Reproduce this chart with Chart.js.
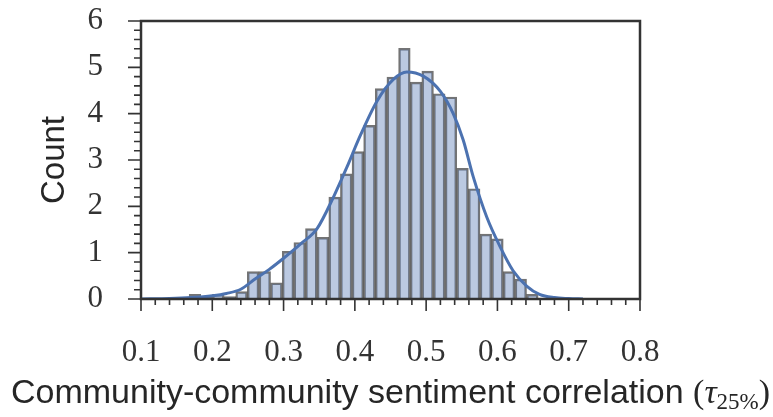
<!DOCTYPE html>
<html>
<head>
<meta charset="utf-8">
<script src="https://cdn.jsdelivr.net/npm/chart.js@4.4.1/dist/chart.umd.min.js"></script>
<style>
  html, body { margin: 0; padding: 0; background: #fff; }
  #wrap { width: 773px; height: 417px; }
</style>
</head>
<body>
<div id="wrap"><canvas id="histChart" width="773" height="417"></canvas></div>
<script>
// Histogramm: Bin-Mitten und Höhen
const binCenters = [0.1757, 0.1920, 0.2084, 0.2247, 0.2410, 0.2573, 0.2736, 0.2900, 0.3063, 0.3226,
                    0.3389, 0.3552, 0.3716, 0.3879, 0.4042, 0.4205, 0.4368, 0.4531, 0.4695, 0.4858,
                    0.5021, 0.5184, 0.5347, 0.5511, 0.5674, 0.5837, 0.6000, 0.6163, 0.6327, 0.6490];
const binCounts = [0.10, 0.05, 0.10, 0.05, 0.16, 0.59, 0.59, 0.35, 1.03, 1.22,
                   1.52, 1.33, 2.20, 2.70, 3.18, 3.75, 4.54, 4.79, 5.41, 4.68,
                   4.92, 4.43, 4.36, 2.82, 2.38, 1.40, 1.30, 0.59, 0.43, 0.10];

// Dichtekurve (KDE)
const kdeX = [0.10, 0.14, 0.17, 0.20, 0.22, 0.24, 0.26, 0.28, 0.30, 0.324,
              0.347, 0.370, 0.389, 0.408, 0.431, 0.454, 0.473, 0.496, 0.520, 0.538,
              0.552, 0.566, 0.585, 0.604, 0.622, 0.641, 0.659, 0.68, 0.70, 0.72];
const kdeY = [0.00, 0.01, 0.03, 0.07, 0.12, 0.21, 0.43, 0.64, 0.88, 1.19,
              1.52, 2.20, 2.85, 3.54, 4.27, 4.74, 4.90, 4.81, 4.48, 4.00,
              3.43, 2.64, 1.77, 1.12, 0.61, 0.28, 0.10, 0.03, 0.01, 0.00];

// Achsen-Ticks
const xMajorTicks = [0.1, 0.2, 0.3, 0.4, 0.5, 0.6, 0.7, 0.8];
const xMinorTicks = [0.12, 0.14, 0.16, 0.18, 0.22, 0.24, 0.26, 0.28, 0.32, 0.34, 0.36, 0.38,
                     0.42, 0.44, 0.46, 0.48, 0.52, 0.54, 0.56, 0.58, 0.62, 0.64, 0.66, 0.68,
                     0.72, 0.74, 0.76, 0.78];
const yMajorTicks = [0, 1, 2, 3, 4, 5, 6];
const yMinorTicks = [0.2, 0.4, 0.6, 0.8, 1.2, 1.4, 1.6, 1.8, 2.2, 2.4, 2.6, 2.8,
                     3.2, 3.4, 3.6, 3.8, 4.2, 4.4, 4.6, 4.8, 5.2, 5.4, 5.6, 5.8];

const yTitle = 'Count';
const xTitleText = 'Community-community sentiment correlation ';

const SANS = "'Liberation Sans', Arial, sans-serif";
const SERIF = "'Liberation Serif', 'Times New Roman', serif";
const INK = '#333333';

// Rahmen, Haupt-/Nebenticks und x-Titel zeichnen
const decorPlugin = {
    id: 'decor',
    afterDatasetsDraw(chart) {
        const { ctx, chartArea: a, scales } = chart;
        const sx = scales.x, sy = scales.y;
        ctx.save();
        ctx.strokeStyle = INK;
        ctx.lineWidth = 1.6;
        ctx.beginPath();
        xMajorTicks.forEach(v => { const p = sx.getPixelForValue(v); ctx.moveTo(p, a.bottom); ctx.lineTo(p, a.bottom + 12); });
        xMinorTicks.forEach(v => { const p = sx.getPixelForValue(v); ctx.moveTo(p, a.bottom); ctx.lineTo(p, a.bottom + 6); });
        yMajorTicks.forEach(v => { const p = sy.getPixelForValue(v); ctx.moveTo(a.left, p); ctx.lineTo(a.left - 13, p); });
        yMinorTicks.forEach(v => { const p = sy.getPixelForValue(v); ctx.moveTo(a.left, p); ctx.lineTo(a.left - 7, p); });
        ctx.stroke();

        ctx.lineWidth = 2.5;
        ctx.strokeRect(a.left, a.top, a.right - a.left, a.bottom - a.top);

        // x-Titel mit tau_{25%}
        const base = 403;
        ctx.fillStyle = '#262626';
        ctx.textBaseline = 'alphabetic';
        ctx.textAlign = 'left';
        const fMain = '34px ' + SANS, fPar = '34px ' + SERIF, fTau = 'italic 34px ' + SERIF, fSub = '23px ' + SERIF;
        const parts = [
            { t: xTitleText, f: fMain, dy: 0 },
            { t: '(', f: fPar, dy: 0 },
            { t: 'τ', f: fTau, dy: 0 },
            { t: '25%', f: fSub, dy: 6 },
            { t: ')', f: fPar, dy: 0 }
        ];
        let total = 0;
        parts.forEach(p => { ctx.font = p.f; p.w = ctx.measureText(p.t).width; total += p.w; });
        let x = (a.left + a.right) / 2 - total / 2;
        parts.forEach(p => { ctx.font = p.f; ctx.fillText(p.t, x, base + p.dy); x += p.w; });
        ctx.restore();
    }
};

const ctx = document.getElementById('histChart').getContext('2d');
new Chart(ctx, {
    type: 'bar',
    data: {
        datasets: [
            {
                type: 'line',
                data: kdeX.map((v, i) => ({ x: v, y: kdeY[i] })),
                borderColor: '#4c72b0',
                borderWidth: 3,
                pointRadius: 0,
                cubicInterpolationMode: 'monotone',
                fill: false,
                order: 0
            },
            {
                type: 'bar',
                data: binCenters.map((v, i) => ({ x: v, y: binCounts[i] })),
                backgroundColor: 'rgba(76, 114, 176, 0.38)',
                borderColor: 'rgba(50, 50, 50, 0.68)',
                borderWidth: 1.8,
                barPercentage: 1,
                categoryPercentage: 1,
                order: 1
            }
        ]
    },
    options: {
        responsive: false,
        animation: false,
        devicePixelRatio: 1,
        layout: { padding: { left: 0, top: 21, right: 133, bottom: 0 } },
        plugins: { legend: { display: false }, tooltip: { enabled: false } },
        scales: {
            x: {
                type: 'linear',
                offset: false,
                min: 0.1,
                max: 0.8,
                grid: { display: false, drawTicks: false },
                border: { display: false },
                afterBuildTicks: s => { s.ticks = xMajorTicks.map(v => ({ value: v })); },
                afterFit: s => { s.height = 118; s.paddingLeft = 0; s.paddingRight = 0; },
                ticks: {
                    padding: 35,
                    color: INK,
                    font: { family: SERIF, size: 31 },
                    callback: v => v.toFixed(1)
                }
            },
            y: {
                min: 0,
                max: 6,
                grid: { display: false, drawTicks: false },
                border: { display: false },
                afterBuildTicks: s => { s.ticks = yMajorTicks.map(v => ({ value: v })); },
                afterFit: s => { s.width = 141; s.paddingTop = 0; s.paddingBottom = 0; },
                ticks: {
                    padding: 38,
                    color: INK,
                    font: { family: SERIF, size: 31 }
                },
                title: {
                    display: true,
                    text: yTitle,
                    color: '#262626',
                    font: { family: SANS, size: 33 },
                    padding: { top: 35, bottom: 0 }
                }
            }
        }
    },
    plugins: [decorPlugin]
});
</script>
</body>
</html>
